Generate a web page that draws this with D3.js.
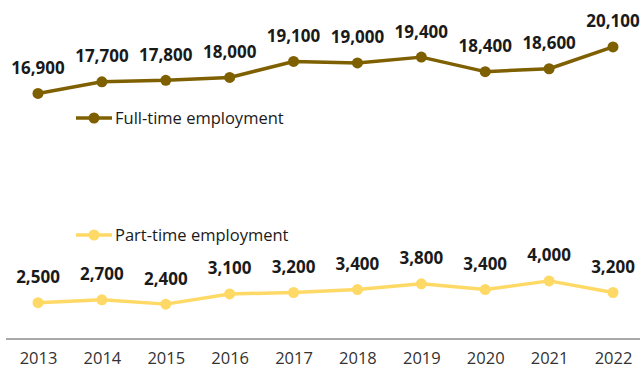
<!DOCTYPE html>
<html>
<head>
<meta charset="utf-8">
<script src="https://cdn.jsdelivr.net/npm/d3@7/dist/d3.min.js"></script>
<style>
  html, body { margin: 0; padding: 0; background: #fff; }
  svg { display: block; font-family: "Open Sans", Lato, sans-serif; }
</style>
</head>
<body>
<svg id="chart" width="640" height="370"></svg>
<script>
// Employment by year
const years = ["2013","2014","2015","2016","2017","2018","2019","2020","2021","2022"];
const fullTime = [16900, 17700, 17800, 18000, 19100, 19000, 19400, 18400, 18600, 20100];
const partTime = [2500, 2700, 2400, 3100, 3200, 3400, 3800, 3400, 4000, 3200];
const seriesNames = ["Full-time employment", "Part-time employment"];
const seriesColors = ["#7f6000", "#ffd966"];

const svg = d3.select("#chart");

const x = d3.scalePoint().domain(years).range([38, 613]);
const y = d3.scaleLinear().domain([0, 20000]).range([339, 48.4]);

// Baseline axis with year labels
const xAxis = d3.axisBottom(x).tickSize(0).tickPadding(13);
const axisG = svg.append("g").attr("transform", `translate(0,${y(0)})`).call(xAxis);
axisG.select(".domain").attr("d", "M6,0H640").attr("stroke", "#8c8c8c").attr("stroke-width", 1.3);
axisG.selectAll("text")
  .attr("font-size", 16.5)
  .attr("fill", "#333")
  .style("font-family", "'Open Sans', Lato, sans-serif");

const series = [
  { name: seriesNames[0], values: fullTime, color: seriesColors[0], legend: [76, 118] },
  { name: seriesNames[1], values: partTime, color: seriesColors[1], legend: [76, 235] }
];

const line = d3.line().x((d, i) => x(years[i])).y(d => y(d));

series.forEach(s => {
  const g = svg.append("g");
  g.append("path")
    .datum(s.values)
    .attr("d", line)
    .attr("fill", "none")
    .attr("stroke", s.color)
    .attr("stroke-width", 3.5)
    .attr("stroke-linejoin", "round");
  g.selectAll("circle")
    .data(s.values)
    .join("circle")
    .attr("cx", (d, i) => x(years[i]))
    .attr("cy", d => y(d))
    .attr("r", 5.5)
    .attr("fill", s.color);
  g.selectAll("text.val")
    .data(s.values)
    .join("text")
    .attr("class", "val")
    .attr("x", (d, i) => x(years[i]))
    .attr("y", d => y(d) - 19.5)
    .attr("text-anchor", "middle")
    .attr("font-size", 17)
    .attr("font-weight", "bold")
    .attr("fill", "#1a1a1a")
    .text(d => d3.format(",")(d));

  // Inline legend entry
  const [lx, ly] = s.legend;
  const lg = svg.append("g");
  lg.append("line")
    .attr("x1", lx).attr("x2", lx + 36)
    .attr("y1", ly).attr("y2", ly)
    .attr("stroke", s.color).attr("stroke-width", 3.5);
  lg.append("circle")
    .attr("cx", lx + 18).attr("cy", ly).attr("r", 5.5).attr("fill", s.color);
  lg.append("text")
    .attr("x", lx + 39).attr("y", ly)
    .attr("dy", "0.35em")
    .attr("font-size", 16.5)
    .attr("fill", "#1a1a1a")
    .text(s.name);
});
</script>
</body>
</html>
